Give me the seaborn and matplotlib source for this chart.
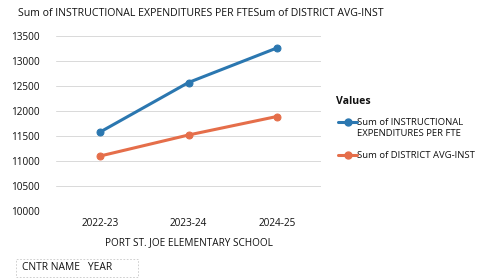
import matplotlib
matplotlib.use("Agg")
import matplotlib.pyplot as plt
import seaborn as sns
import pandas as pd
from matplotlib.lines import Line2D
from matplotlib.patches import FancyBboxPatch

years = ["2022-23", "2023-24", "2024-25"]
instructional = [11580, 12570, 13260]
district = [11100, 11520, 11890]
series_names = ["Sum of INSTRUCTIONAL EXPENDITURES PER FTE", "Sum of DISTRICT AVG-INST"]
yticks = [10000, 10500, 11000, 11500, 12000, 12500, 13000, 13500]

df = pd.DataFrame({
    "year": years * 2,
    "value": instructional + district,
    "series": [series_names[0]] * 3 + [series_names[1]] * 3,
})

sns.set_theme(style="white")
plt.rcParams["font.family"] = ["Open Sans", "DejaVu Sans"]

colors = ["#2b77b0", "#e56e4a"]
fig = plt.figure(figsize=(4.95, 2.79), dpi=100)
ax = fig.add_axes([56/495, (279-211)/279, (321-56)/495, (211-36)/279])

for y in yticks:
    ax.axhline(y, color="#d9d9d9", lw=0.7, zorder=0)

sns.lineplot(data=df, x="year", y="value", hue="series", palette=colors,
             marker="o", markersize=5, lw=2.2, ax=ax, legend=False, sort=False)
for line, c in zip(ax.lines[-2:], colors):
    line.set_markeredgecolor(c)
    line.set_markerfacecolor(c)

ax.set_xlim(-0.5, 2.5)
ax.set_ylim(10000, 13500)
ax.set_yticks(yticks)
ax.set_yticklabels([str(v) for v in yticks], fontsize=7.2, color="#111111")
ax.set_xticks(range(3))
ax.set_xticklabels(years, fontsize=7.2, color="#111111")
ax.tick_params(axis="both", length=0)
ax.tick_params(axis="y", pad=12)
ax.tick_params(axis="x", pad=5)
for s in ax.spines.values():
    s.set_visible(False)
ax.set_xlabel("PORT ST. JOE ELEMENTARY SCHOOL", fontsize=7.2, color="#111111", labelpad=6)
ax.set_ylabel("")

fig.text(18/495, 1 - 14/279, "Sum of INSTRUCTIONAL EXPENDITURES PER FTESum of DISTRICT AVG-INST",
         fontsize=7.6, color="#111111", va="center", ha="left")

# legend
fig.text(336/495, 1 - 102/279, "Values", fontsize=7.6, fontweight="bold", color="#111111", va="center")
fig.text(357/495, 1 - 128/279, "Sum of INSTRUCTIONAL\nEXPENDITURES PER FTE", fontsize=6.8,
         color="#111111", va="center", ha="left", linespacing=1.2)
fig.text(357/495, 1 - 155/279, "Sum of DISTRICT AVG-INST", fontsize=6.8,
         color="#111111", va="center", ha="left")
for yy, c in [(122, colors[0]), (155, colors[1])]:
    fig.add_artist(Line2D([338/495, 357/495], [1 - yy/279] * 2, color=c, lw=2.2,
                          transform=fig.transFigure))
    fig.add_artist(Line2D([347.5/495], [1 - yy/279], color=c, marker="o", markersize=5,
                          transform=fig.transFigure))

fig.text(22/495, 1 - 268/279, "CNTR NAME   YEAR", fontsize=7.4, color="#111111", va="center")
fig.add_artist(FancyBboxPatch((16/495, 1 - 277/279), (138 - 16)/495, 18/279,
                              boxstyle="square,pad=0", fill=False, ec="#c8c8c8", lw=0.6,
                              ls=(0, (2, 2)), transform=fig.transFigure))

fig.savefig("out.png", dpi=100)
